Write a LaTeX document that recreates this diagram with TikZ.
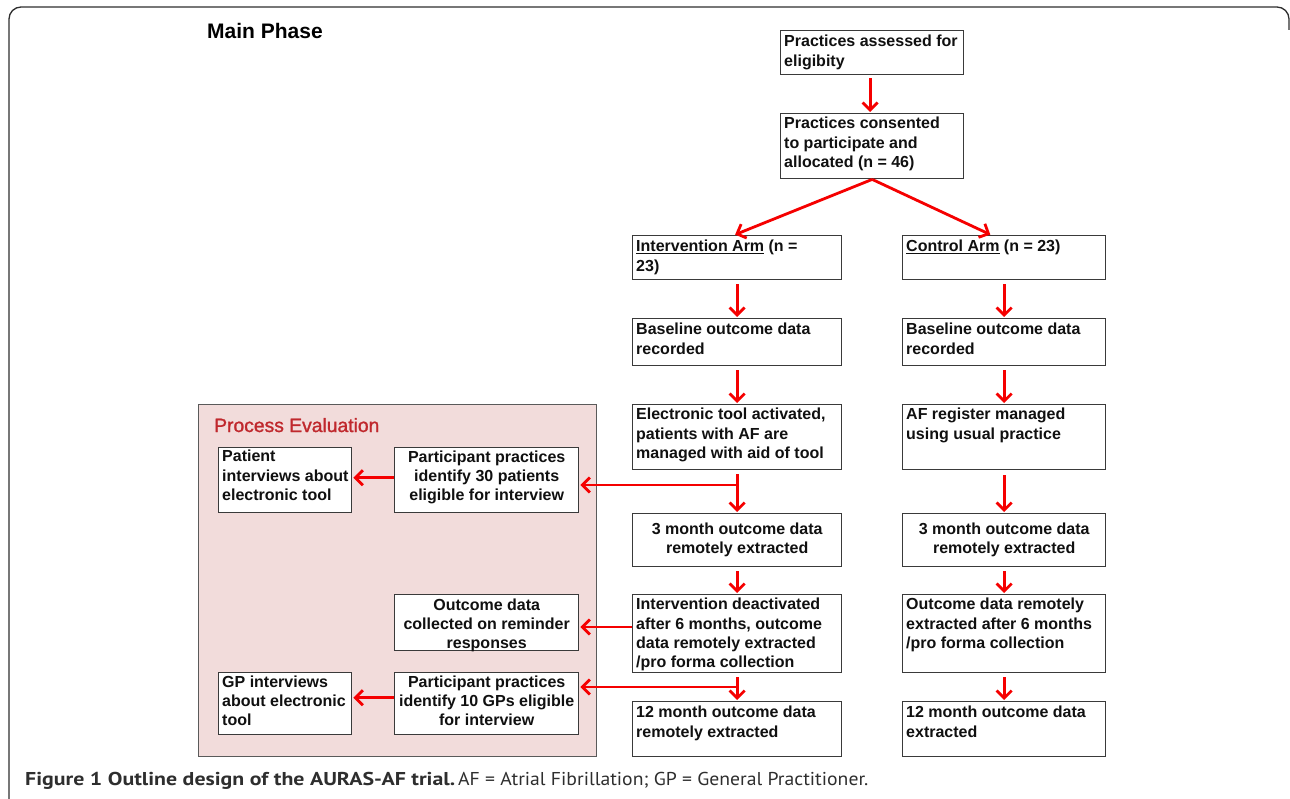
\documentclass[tikz,border=0pt]{standalone}
\usepackage{fontspec}
\usepackage{graphicx}
\setmainfont{Liberation Sans}
\newfontfamily\capfont{PT Sans}
\newfontfamily\procfont[FakeBold=1.3]{Liberation Sans}
\usetikzlibrary{arrows.meta}
\definecolor{boxline}{HTML}{3A3A3A}
\definecolor{arrowred}{HTML}{F50000}
\definecolor{procfill}{HTML}{F2DCDB}
\definecolor{procline}{HTML}{5A5A5A}
\definecolor{proctext}{HTML}{C0282D}
\definecolor{captext}{HTML}{2E2E2E}
\definecolor{boxtext}{HTML}{101010}
\begin{document}
\begin{tikzpicture}[x=1pt,y=-1pt,
  box/.style={draw=boxline, line width=1.4pt, fill=white, inner sep=0pt, anchor=north west},
  txt/.style={inner sep=0pt, text=boxtext, font=\fontsize{16}{19.3}\selectfont\bfseries, align=left},
  ctxt/.style={inner sep=0pt, text=boxtext, font=\fontsize{16}{19.3}\selectfont\bfseries, align=center},
  arr/.style={draw=arrowred, line width=2.8pt, -{Straight Barb[length=7.5pt,width=15pt]}, shorten >=1pt},
  ln/.style={draw=arrowred, line width=2.8pt},
]
\useasboundingbox (0,0) rectangle (1290,799);
% outer frame
\draw[draw=captext, line width=1.3pt, rounded corners=12pt] (9,810) -- (9,7) -- (1289,7) -- (1289,30);
\node[anchor=base west, inner sep=0pt, font=\fontsize{21}{24}\selectfont\bfseries] (mainphase) at (207,39) {Main Phase};

% process evaluation panel
\node[box, draw=procline, fill=procfill, line width=1.2pt, minimum width=398pt, minimum height=352pt] (proc) at (198,404) {};
\node[anchor=base west, inner sep=0pt, text=proctext, font=\procfont\fontsize{19.3}{22}\selectfont] (proctitle) at (214,432) {Process Evaluation};

% main column boxes
\node[box, minimum width=183pt, minimum height=44pt] (b1) at (780,30) {};
\node[box, minimum width=183pt, minimum height=65pt] (b2) at (780,113) {};
\node[box, minimum width=209pt, minimum height=44pt] (iarm) at (632,235) {};
\node[box, minimum width=203pt, minimum height=44pt] (carm) at (902,235) {};
\node[box, minimum width=209pt, minimum height=47pt] (ibase) at (632,318) {};
\node[box, minimum width=203pt, minimum height=47pt] (cbase) at (902,318) {};
\node[box, minimum width=209pt, minimum height=65pt] (itool) at (632,404) {};
\node[box, minimum width=203pt, minimum height=65pt] (creg) at (902,404) {};
\node[box, minimum width=209pt, minimum height=53pt] (ithree) at (632,513) {};
\node[box, minimum width=203pt, minimum height=53pt] (cthree) at (902,513) {};
\node[box, minimum width=209pt, minimum height=78pt] (isix) at (632,594) {};
\node[box, minimum width=203pt, minimum height=78pt] (csix) at (902,594) {};
\node[box, minimum width=209pt, minimum height=55pt] (itwelve) at (632,701) {};
\node[box, minimum width=203pt, minimum height=55pt] (ctwelve) at (902,701) {};
% process boxes
\node[box, minimum width=133pt, minimum height=65pt] (pat) at (218,447) {};
\node[box, minimum width=184pt, minimum height=65pt] (pthirty) at (394,447) {};
\node[box, minimum width=184pt, minimum height=56pt] (outc) at (394,594) {};
\node[box, minimum width=133pt, minimum height=62pt] (gp) at (218,672) {};
\node[box, minimum width=184pt, minimum height=62pt] (pten) at (394,672) {};

% texts
\node[txt, anchor=north west] (tb1) at ([xshift=4pt,yshift=-5pt]b1.north west) {Practices assessed for\\eligibity};
\node[txt, anchor=north west] (tb2) at ([xshift=4pt,yshift=-4pt]b2.north west) {Practices consented\\to participate and\\allocated (n = 46)};
\node[txt, anchor=north west] (tiarm) at ([xshift=4pt,yshift=-5pt]iarm.north west) {\underline{Intervention Arm} (n =\\23)};
\node[txt, anchor=north west] (tcarm) at ([xshift=4pt,yshift=-5pt]carm.north west) {\underline{Control Arm} (n = 23)};
\node[txt, anchor=north west] (tibase) at ([xshift=4pt,yshift=-5pt]ibase.north west) {Baseline outcome data\\recorded};
\node[txt, anchor=north west] (tcbase) at ([xshift=4pt,yshift=-5pt]cbase.north west) {Baseline outcome data\\recorded};
\node[txt, anchor=north west] (titool) at ([xshift=4pt,yshift=-4pt]itool.north west) {Electronic tool activated,\\patients with AF are\\managed with aid of tool};
\node[txt, anchor=north west] (tcreg) at ([xshift=4pt,yshift=-4pt]creg.north west) {AF register managed\\using usual practice};
\node[ctxt] (tithree) at (ithree.center) {3 month outcome data\\remotely extracted};
\node[ctxt] (tcthree) at (cthree.center) {3 month outcome data\\remotely extracted};
\node[txt, anchor=north west] (tisix) at ([xshift=4pt,yshift=-4pt]isix.north west) {Intervention deactivated\\after 6 months, outcome\\data remotely extracted\\/pro forma collection};
\node[txt, anchor=north west] (tcsix) at ([xshift=4pt,yshift=-4pt]csix.north west) {Outcome data remotely\\extracted after 6 months\\/pro forma collection};
\node[txt, anchor=north west] (titwelve) at ([xshift=4pt,yshift=-5pt]itwelve.north west) {12 month outcome data\\remotely extracted};
\node[txt, anchor=north west] (tctwelve) at ([xshift=4pt,yshift=-5pt]ctwelve.north west) {12 month outcome data\\extracted};
\node[txt, anchor=north west] (tpat) at ([xshift=4pt,yshift=-3pt]pat.north west) {Patient\\interviews about\\electronic tool};
\node[ctxt, anchor=north] (tpthirty) at ([yshift=-3.5pt]pthirty.north) {Participant practices\\identify 30 patients\\eligible for interview};
\node[ctxt, anchor=north] (toutc) at ([yshift=-4.5pt]outc.north) {Outcome data\\collected on reminder\\responses};
\node[txt, anchor=north west] (tgp) at ([xshift=4pt,yshift=-3.5pt]gp.north west) {GP interviews\\about electronic\\tool};
\node[ctxt, anchor=north] (tpten) at ([yshift=-3.5pt]pten.north) {Participant practices\\identify 10 GPs eligible\\for interview};

% arrows
\draw[arr] ([yshift=-3pt,xshift=-2pt]b1.south) -- ([xshift=-2pt]b2.north);
\draw[arr] (b2.south) -- ([xshift=-3pt]iarm.north);
\draw[arr] (b2.south) -- ([xshift=-13pt]carm.north);
\draw[arr] ([yshift=-4pt]iarm.south) -- (ibase.north);
\draw[arr] ([yshift=-4pt]carm.south) -- (cbase.north);
\draw[arr] ([yshift=-4pt]ibase.south) -- (itool.north);
\draw[arr] ([yshift=-4pt]cbase.south) -- (creg.north);
\draw[arr] ([yshift=-4pt]itool.south) -- (ithree.north);
\draw[arr] ([yshift=-5pt]creg.south) -- (cthree.north);
\draw[arr] ([yshift=-4pt]ithree.south) -- (isix.north);
\draw[arr] ([yshift=-4pt]cthree.south) -- (csix.north);
\draw[arr] ([yshift=-4pt]isix.south) -- (itwelve.north);
\draw[arr] ([yshift=-4pt]csix.south) -- (ctwelve.north);
% branches to process evaluation
\coordinate (jone) at (736.5,485);
\coordinate (jtwo) at (736.5,687);
\coordinate (jthree) at (632,627);
\draw[arr] ([xshift=1.4pt]jone) -- (pthirty.east |- jone);
\draw[arr] ([xshift=1.4pt]jtwo) -- (pten.east |- jtwo);
\draw[arr] (jthree) -- (outc.east |- jthree);
\draw[arr] ([yshift=2.5pt]pthirty.west) -- ([yshift=2.5pt]pat.east);
\draw[arr] ([yshift=6pt]pten.west) -- ([yshift=6pt]gp.east);

% caption
\node[anchor=base west, inner sep=0pt, text=captext] (capa) at (25,785) {\resizebox{430pt}{\height}{\capfont\fontsize{18.6}{21}\selectfont\bfseries Figure 1 Outline design of the AURAS-AF trial.}};
\node[anchor=base west, inner sep=0pt, text=captext] (capb) at (458,785) {\resizebox{410pt}{\height}{\capfont\fontsize{18.6}{21}\selectfont AF = Atrial Fibrillation; GP = General Practitioner.}};
\end{tikzpicture}
\end{document}
